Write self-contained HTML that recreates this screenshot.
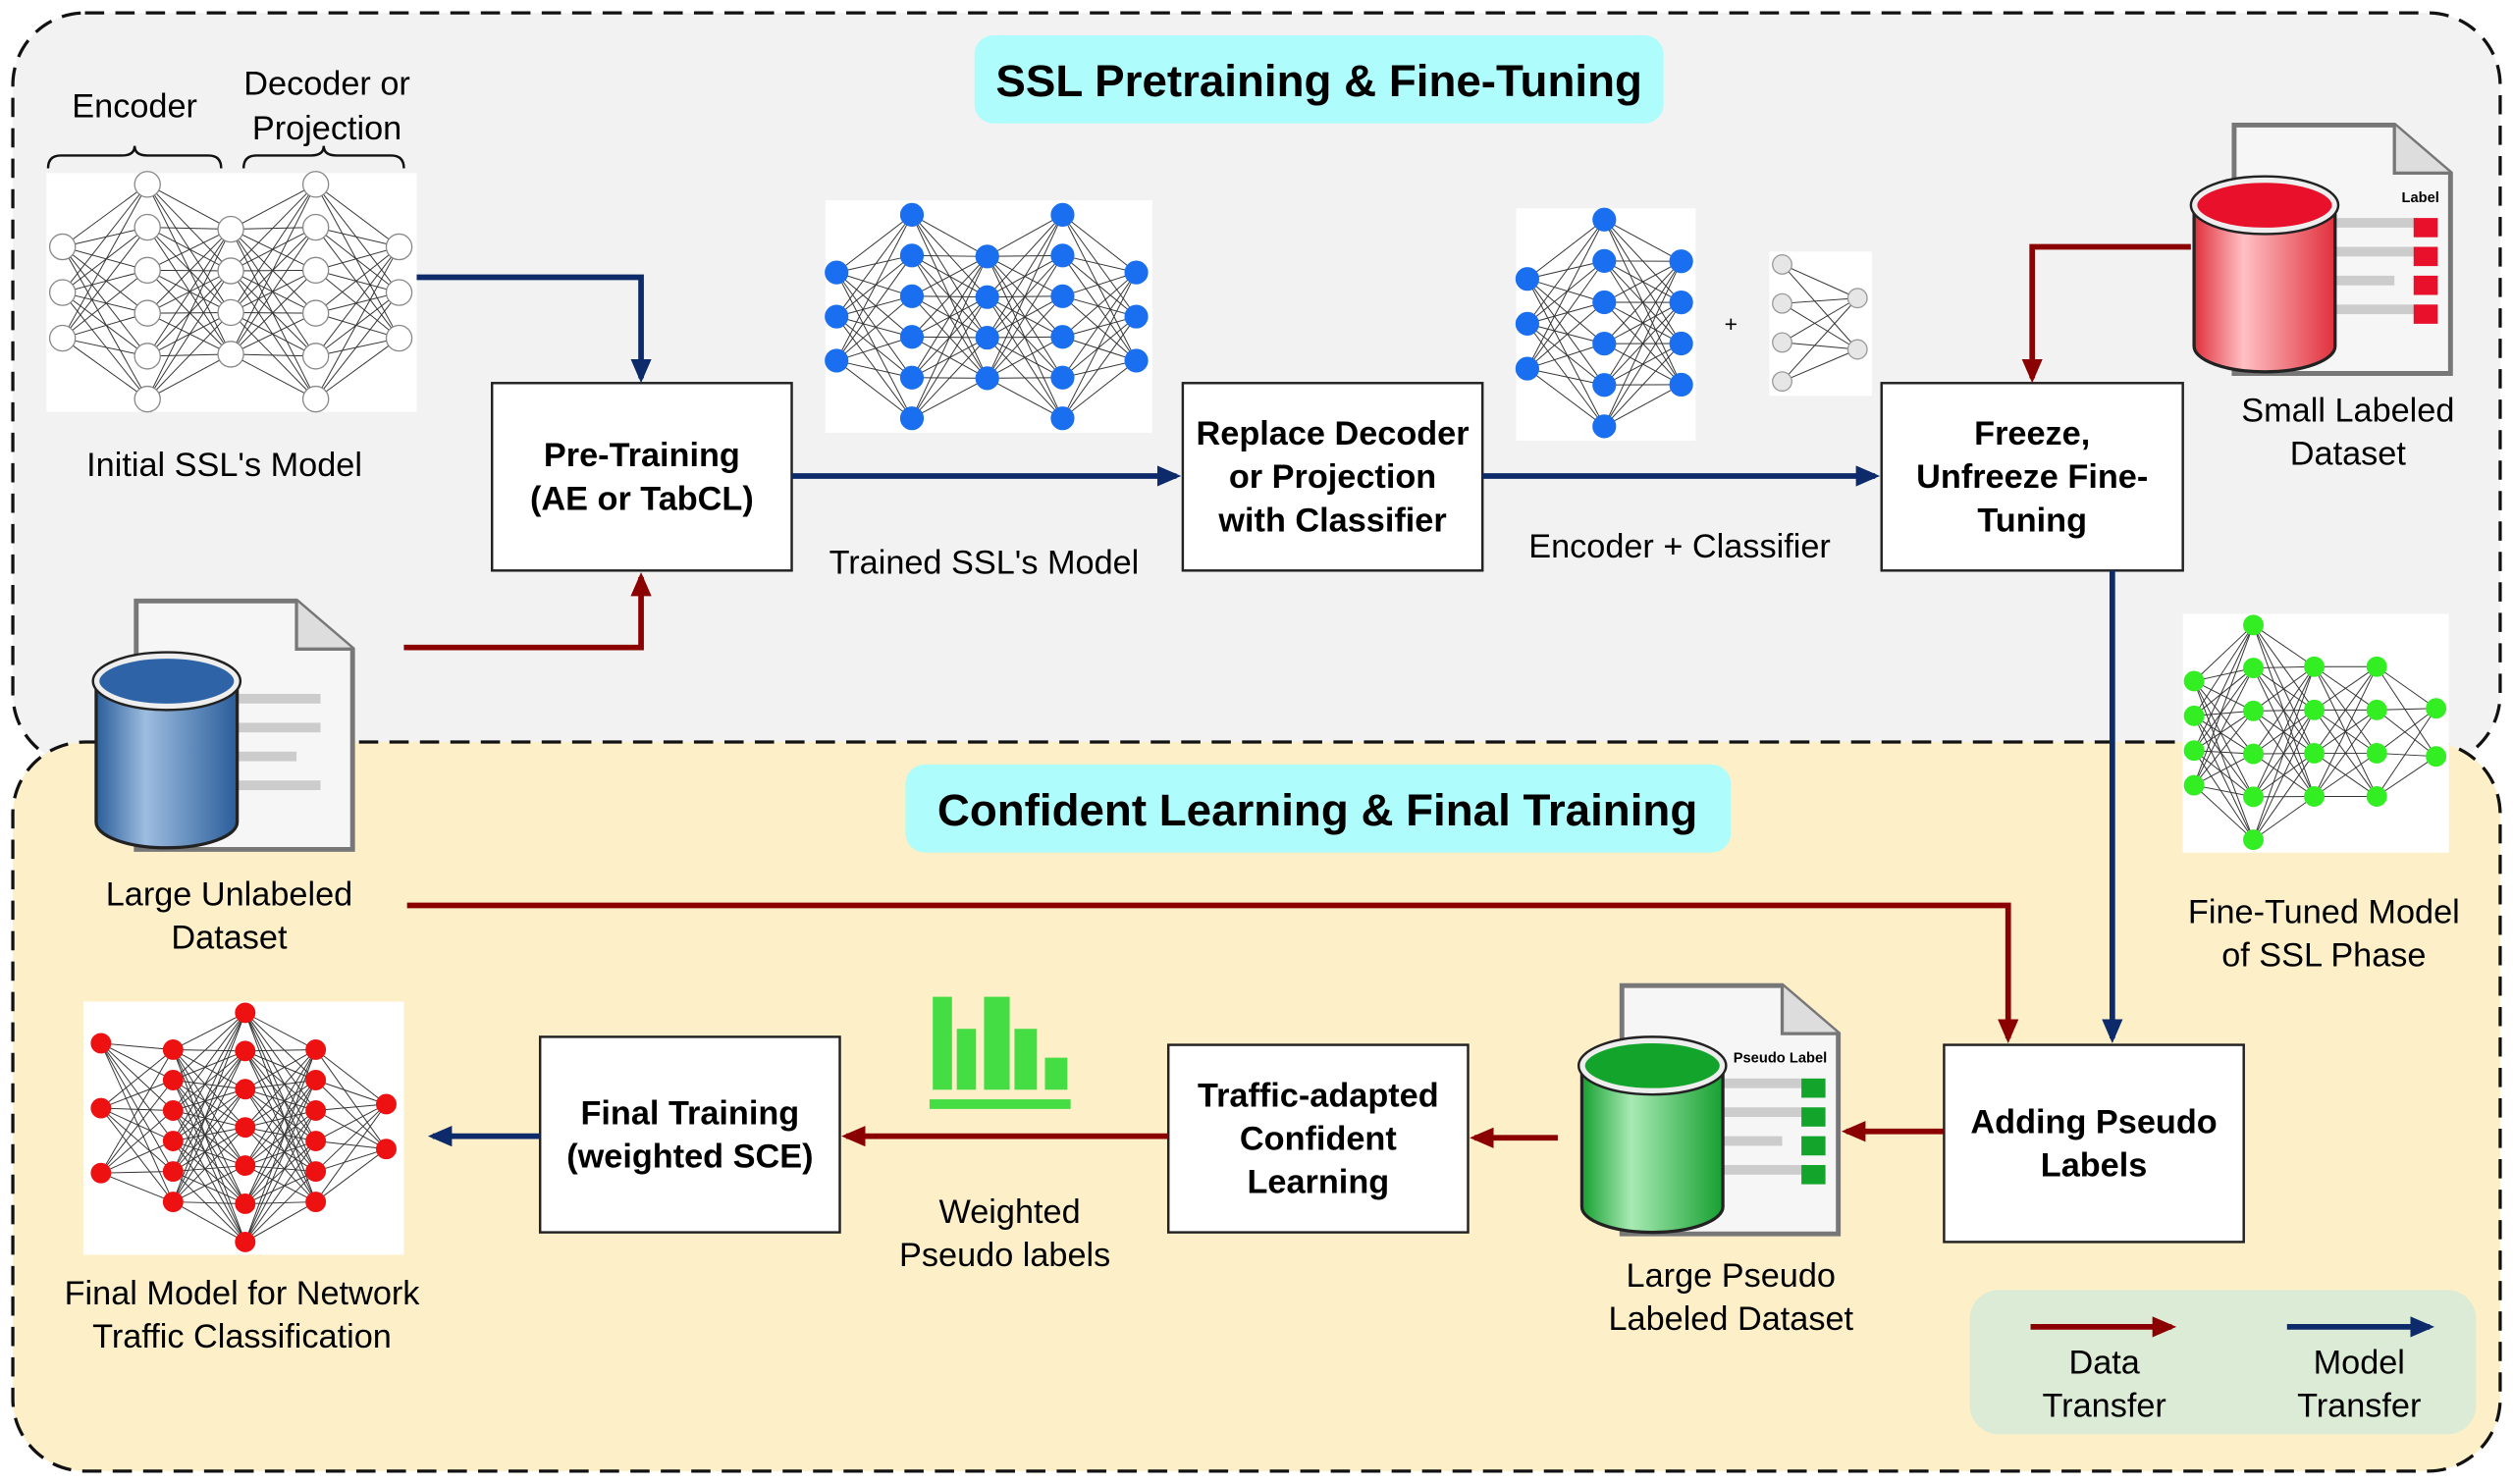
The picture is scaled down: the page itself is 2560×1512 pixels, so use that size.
<!DOCTYPE html>
<html><head><meta charset="utf-8"><style>
html,body{margin:0;padding:0;background:#fff}
svg{display:block}
text{font-family:"Liberation Sans",Arial,sans-serif}
</style></head><body>
<svg id="s" width="2560" height="1512" viewBox="0 0 1568 926" xmlns="http://www.w3.org/2000/svg">
<defs>
<marker id="an" markerWidth="16" markerHeight="14" refX="12" refY="6.5" orient="auto" markerUnits="userSpaceOnUse"><path d="M0,0 L15,6.5 L0,13 z" fill="#0d2a6b"/></marker>
<marker id="ar" markerWidth="16" markerHeight="14" refX="12" refY="6.5" orient="auto" markerUnits="userSpaceOnUse"><path d="M0,0 L15,6.5 L0,13 z" fill="#8b0000"/></marker>
<linearGradient id="gb" x1="0" x2="1"><stop offset="0" stop-color="#2a5d9a"/><stop offset="0.35" stop-color="#9dbde0"/><stop offset="1" stop-color="#2a5d9a"/></linearGradient>
<linearGradient id="gr" x1="0" x2="1"><stop offset="0" stop-color="#e0303c"/><stop offset="0.35" stop-color="#ffc0c4"/><stop offset="1" stop-color="#e0303c"/></linearGradient>
<linearGradient id="gg" x1="0" x2="1"><stop offset="0" stop-color="#16a030"/><stop offset="0.35" stop-color="#a8eab4"/><stop offset="1" stop-color="#16a030"/></linearGradient>
</defs>
<rect x="8" y="8" width="1552" height="470" rx="45" fill="#f2f2f2" stroke="#111" stroke-width="2" stroke-dasharray="12,7"/>
<rect x="8" y="463" width="1552" height="455" rx="45" fill="#fdefc8" stroke="#111" stroke-width="2" stroke-dasharray="12,7"/>
<rect x="608" y="22" width="430" height="55" rx="12" fill="#aefcfc"/>
<text x="823" y="60" text-anchor="middle" font-size="28" font-weight="bold">SSL Pretraining &amp; Fine-Tuning</text>
<rect x="565" y="477" width="515" height="55" rx="12" fill="#aefcfc"/>
<text x="822" y="515" text-anchor="middle" font-size="28" font-weight="bold">Confident Learning &amp; Final Training</text>
<g id="dyn"></g>
</svg>
<script>
var g=document.getElementById('dyn'),o='';
function net(bx,by,bw,bh,xs,layers,r,fill,stroke){
 o+='<rect x="'+bx+'" y="'+by+'" width="'+bw+'" height="'+bh+'" fill="#fff"/>';
 var L=layers.map(function(l,i){var a=[];var y0=l[0],y1=l[1],n=l[2];for(var k=0;k<n;k++)a.push([xs[i],n==1?y0:y0+(y1-y0)*k/(n-1)]);return a;});
 for(var i=0;i<L.length-1;i++)for(var a=0;a<L[i].length;a++)for(var b=0;b<L[i+1].length;b++)o+='<line x1="'+L[i][a][0]+'" y1="'+L[i][a][1]+'" x2="'+L[i+1][b][0]+'" y2="'+L[i+1][b][1]+'" stroke="#333" stroke-width="0.6"/>';
 L.forEach(function(l){l.forEach(function(p){o+='<circle cx="'+p[0]+'" cy="'+p[1]+'" r="'+r+'" fill="'+fill+'" stroke="'+stroke+'" stroke-width="0.8"/>';});});
}
net(29,108,231,149,[39,92,144,197,249],[[154,211,3],[115,249,6],[143,221,4],[115,249,6],[154,211,3]],8,"#fff","#888");
net(515,125,204,145,[522,569,616,663,709],[[170,225,3],[134,261,6],[160,236,4],[134,261,6],[170,225,3]],7,"#1a6ff0","#1a6ff0");
net(946,130,112,145,[953,1001,1049],[[174,230,3],[137,266,6],[163,240,4]],7,"#1a6ff0","#1a6ff0");
net(1104,157,64,90,[1112,1159],[[165,238,4],[186,218,2]],6,"#e6e6e6","#999");
net(1362,383,166,149,[1369,1406,1444,1483,1520],[[425,490,4],[390,524,6],[416,497,4],[416,497,4],[442,472,2]],6,"#33ee22","#33ee22");
net(52,625,200,158,[63,108,153,197,241],[[651,732,3],[655,750,6],[632,775,7],[655,750,6],[689,717,2]],6,"#ee1111","#ee1111");
function db(x,y,grad,top,label){
 var dx=x+27;
 o+='<path d="M'+dx+','+y+' h100 l35,30 v125 h-135 z" fill="#f6f6f6" stroke="#777" stroke-width="3"/>';
 o+='<path d="M'+(dx+100)+','+y+' v30 h35" fill="#ddd" stroke="#777" stroke-width="2"/>';
 for(var k=0;k<4;k++)o+='<rect x="'+(dx+60)+'" y="'+(y+58+k*18)+'" width="'+(k==2?40:55)+'" height="6" fill="#ccc"/>';
 if(label){o+='<text x="'+(dx+128)+'" y="'+(y+48)+'" font-size="9" font-weight="bold" text-anchor="end">'+label+'</text>';
  for(var k=0;k<4;k++)o+='<rect x="'+(dx+112)+'" y="'+(y+58+k*18)+'" width="15" height="12" fill="'+top+'"/>';}
 var cx=x+46,w=44,cy=y+50,h=88;
 o+='<path d="M'+(cx-w)+','+cy+' v'+h+' a'+w+',16 0 0 0 '+(2*w)+',0 v-'+h+'" fill="url(#'+grad+')" stroke="#222" stroke-width="2"/>';
 o+='<ellipse cx="'+cx+'" cy="'+cy+'" rx="'+w+'" ry="16" fill="'+top+'" stroke="#eee" stroke-width="4"/>';
 o+='<ellipse cx="'+cx+'" cy="'+cy+'" rx="'+(w+2)+'" ry="18" fill="none" stroke="#222" stroke-width="1.5"/>';
}
db(58,375,"gb","#2e63a8",null);
db(1367,78,"gr","#e8102a","Label");
db(985,615,"gg","#13a52b","Pseudo Label");
o+='<rect x="580" y="686" width="88" height="6" fill="#44dd44"/>';
[[582,622,12],[597,642,12],[614,622,16],[633,642,14],[652,660,14]].forEach(function(b){o+='<rect x="'+b[0]+'" y="'+b[1]+'" width="'+b[2]+'" height="'+(680-b[1])+'" fill="#44dd44"/>';});
function box(x,y,w,h,lines){o+='<rect x="'+x+'" y="'+y+'" width="'+w+'" height="'+h+'" fill="#fff" stroke="#222" stroke-width="1.5"/>';
 var n=lines.length,cy=y+h/2-(n-1)*13.5+7;lines.forEach(function(t,i){o+='<text x="'+(x+w/2)+'" y="'+(cy+i*27)+'" text-anchor="middle" font-size="21" font-weight="bold">'+t+'</text>';});}
box(307,239,187,117,["Pre-Training","(AE or TabCL)"]);
box(738,239,187,117,["Replace Decoder","or Projection","with Classifier"]);
box(1174,239,188,117,["Freeze,","Unfreeze Fine-","Tuning"]);
box(1213,652,187,123,["Adding Pseudo","Labels"]);
box(729,652,187,117,["Traffic-adapted","Confident","Learning"]);
box(337,647,187,122,["Final Training","(weighted SCE)"]);
function ar(d,c){o+='<path d="'+d+'" fill="none" stroke="'+(c=='n'?'#0d2a6b':'#8b0000')+'" stroke-width="3.5" marker-end="url(#a'+c+')"/>';}
ar("M260,173 H400 V236","n");
ar("M252,404 H400 V360","r");
ar("M494,297 H734","n");
ar("M925,297 H1170","n");
ar("M1367,154 H1268 V236","r");
ar("M1318,356 V648","n");
ar("M254,565 H1253 V648","r");
ar("M1213,706 H1152","r");
ar("M972,710 H920","r");
ar("M729,709 H528","r");
ar("M337,709 H270","n");
o+='<rect x="1229" y="805" width="316" height="90" rx="18" fill="#dcebd5"/>';
ar("M1267,828 H1355","r");ar("M1427,828 H1516","n");
function t(x,y,s,anchor){o+='<text x="'+x+'" y="'+y+'" text-anchor="'+(anchor||'middle')+'" font-size="21">'+s+'</text>';}
t(84,73,"Encoder");t(204,59,"Decoder or");t(204,87,"Projection");
o+='<path d="M30,105 q0,-8 8,-8 h38 q8,0 8,-6 q0,6 8,6 h38 q8,0 8,8 M152,105 q0,-8 8,-8 h34 q8,0 8,-6 q0,6 8,6 h34 q8,0 8,8" fill="none" stroke="#111" stroke-width="1.5"/>';
t(140,297,"Initial SSL's Model");t(614,358,"Trained SSL's Model");
t(1048,348,"Encoder  +  Classifier");
o+='<text x="1080" y="207" text-anchor="middle" font-size="14">+</text>';
t(1465,263,"Small Labeled");t(1465,290,"Dataset");
t(143,565,"Large Unlabeled");t(143,592,"Dataset");
t(1450,576,"Fine-Tuned Model");t(1450,603,"of SSL Phase");
t(630,763,"Weighted");t(627,790,"Pseudo labels");
t(1080,803,"Large Pseudo");t(1080,830,"Labeled Dataset");
t(151,814,"Final Model for Network");t(151,841,"Traffic Classification");
t(1313,857,"Data");t(1313,884,"Transfer");t(1472,857,"Model");t(1472,884,"Transfer");
g.innerHTML=o;
</script>
</body></html>
